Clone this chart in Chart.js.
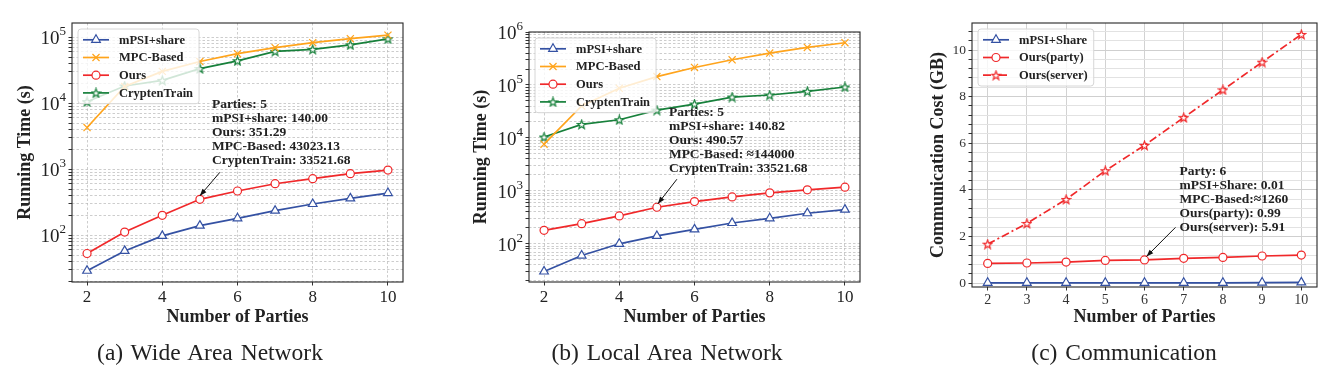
<!DOCTYPE html>
<html>
<head>
<meta charset="utf-8">
<script src="https://cdn.jsdelivr.net/npm/chart.js@4.4.1/dist/chart.umd.min.js"></script>
<style>
  body { margin: 0; background: #fff; width: 1334px; height: 383px; position: relative; overflow: hidden; font-family: "Liberation Serif", serif; }
  canvas { position: absolute; top: 0; }
  .cap { position: absolute; top: 339px; line-height: 26px; font-size: 23.5px; color: #222; white-space: nowrap; transform: translateX(-50%); word-spacing: 2px; }
</style>
</head>
<body>
<canvas id="wan" width="445" height="340" style="left:0"></canvas>
<canvas id="lan" width="445" height="340" style="left:445px"></canvas>
<canvas id="comm" width="444" height="340" style="left:890px"></canvas>
<div class="cap" style="left:210px">(a) Wide Area Network</div>
<div class="cap" style="left:667px">(b) Local Area Network</div>
<div class="cap" style="left:1124px">(c) Communication</div>

<script>
// ---- data ----
const parties = [2, 3, 4, 5, 6, 7, 8, 9, 10];

// (a) wide area network, running time in seconds
const wanMpsi    = [29, 58, 98, 140.00, 181, 236, 298, 363, 437];
const wanOurs    = [53, 112, 201, 351.29, 469, 605, 721, 859, 975];
const wanMpc     = [4300, 18000, 30500, 43023.13, 56500, 69700, 83000, 95500, 108000];
const wanCrypten = [10600, 18300, 22300, 33521.68, 44100, 61400, 65800, 77000, 94900];

// (b) local area network, running time in seconds
const lanMpsi    = [30, 60, 100, 140.82, 187, 247, 303, 378, 442];
const lanOurs    = [180, 240, 336, 490.57, 627, 769, 916, 1045, 1175];
const lanMpc     = [7600, 40000, 86500, 144000, 214000, 299000, 400000, 511000, 627000];
const lanCrypten = [10400, 18000, 22000, 33521.68, 43600, 59100, 64600, 75900, 91600];

// (c) communication cost in GB
const commMpsi   = [0.01, 0.01, 0.01, 0.01, 0.01, 0.01, 0.01, 0.02, 0.03];
const commParty  = [0.84, 0.86, 0.90, 0.97, 0.99, 1.06, 1.10, 1.16, 1.20];
const commServer = [1.67, 2.56, 3.59, 4.82, 5.91, 7.10, 8.29, 9.48, 10.67];

// tick labels
const partyTicks = [2, 4, 6, 8, 10];
const commPartyTicks = [2, 3, 4, 5, 6, 7, 8, 9, 10];
const commCostTicks = [0, 2, 4, 6, 8, 10];
const logExponents = [2, 3, 4, 5, 6];

// annotation texts
const wanNote = ['Parties: 5', 'mPSI+share: 140.00', 'Ours: 351.29', 'MPC-Based: 43023.13', 'CryptenTrain: 33521.68'];
const lanNote = ['Parties: 5', 'mPSI+share: 140.82', 'Ours: 490.57', 'MPC-Based: \u2248144000', 'CryptenTrain: 33521.68'];
const commNote = ['Party: 6', 'mPSI+Share: 0.01', 'MPC-Based:\u22481260', 'Ours(party): 0.99', 'Ours(server): 5.91'];

// ---- styling ----
const BLUE = '#3451a3', ORANGE = '#ffa41c', RED = '#f0282a', GREEN = '#17803b';
const FONT = 'Liberation Serif';
const DASHDOT = [8, 3, 2, 3];

function starImage(color) {
  const c = document.createElement('canvas');
  c.width = 11; c.height = 11;
  const g = c.getContext('2d');
  g.beginPath();
  for (let i = 0; i < 10; i++) {
    const r = i % 2 ? 1.9 : 4.6;
    const ang = -Math.PI / 2 + i * Math.PI / 5;
    const px = 5.5 + r * Math.cos(ang), py = 5.9 + r * Math.sin(ang);
    if (i) g.lineTo(px, py); else g.moveTo(px, py);
  }
  g.closePath();
  g.fillStyle = '#fff'; g.fill();
  g.strokeStyle = color; g.lineWidth = 1.2; g.stroke();
  return c;
}
const greenStar = starImage(GREEN);
const redStar = starImage(RED);

function markerRadius(m) {
  if (m === 'triangle') return 5;
  if (m === 'crossRot') return 5;
  return 4;
}

function series(label, values, color, marker, dash) {
  return {
    label: label,
    data: values.map((v, i) => ({ x: parties[i], y: v })),
    borderColor: color,
    borderWidth: 1.7,
    borderDash: dash || [],
    pointStyle: marker,
    pointRadius: markerRadius(marker),
    pointBorderColor: color,
    pointBackgroundColor: '#fff',
    pointBorderWidth: 1.2,
    tension: 0,
    fill: false
  };
}

function drawMarker(ctx, kind, color, x, y) {
  ctx.save();
  ctx.strokeStyle = color; ctx.fillStyle = '#fff'; ctx.lineWidth = 1.2; ctx.setLineDash([]);
  ctx.beginPath();
  if (kind === 'triangle') {
    const r = 5;
    ctx.moveTo(x, y - r); ctx.lineTo(x + r * 0.866, y + r / 2); ctx.lineTo(x - r * 0.866, y + r / 2);
    ctx.closePath(); ctx.fill(); ctx.stroke();
  } else if (kind === 'circle') {
    ctx.arc(x, y, 4, 0, Math.PI * 2); ctx.fill(); ctx.stroke();
  } else if (kind === 'crossRot') {
    const d = 5 * 0.7071;
    ctx.moveTo(x - d, y - d); ctx.lineTo(x + d, y + d);
    ctx.moveTo(x + d, y - d); ctx.lineTo(x - d, y + d); ctx.stroke();
  } else {
    ctx.drawImage(kind, x - kind.width / 2, y - kind.height / 2);
  }
  ctx.restore();
}

// frame, legend box, power-of-ten labels and the arrow note
const decor = {
  id: 'decor',
  afterDatasetsDraw(chart, args, o) {
    const ctx = chart.ctx, a = chart.chartArea;
    ctx.save();

    // legend
    ctx.font = 'bold 12.5px "' + FONT + '"';
    const ds = chart.data.datasets;
    let tw = 0;
    ds.forEach(d => { tw = Math.max(tw, ctx.measureText(d.label).width); });
    const bx = a.left + 6, by = a.top + 6;
    const bw = 41 + tw + 6, bh = 21.6 + (ds.length - 1) * 17.7;
    ctx.beginPath();
    ctx.roundRect(bx, by, bw, bh, 3);
    ctx.fillStyle = 'rgba(255,255,255,0.8)'; ctx.fill();
    ctx.strokeStyle = '#d6d6d6'; ctx.lineWidth = 1; ctx.stroke();
    ds.forEach((d, i) => {
      const y = by + 10.8 + i * 17.7;
      ctx.beginPath();
      ctx.setLineDash(d.borderDash);
      ctx.strokeStyle = d.borderColor; ctx.lineWidth = 1.7;
      ctx.moveTo(bx + 5, y); ctx.lineTo(bx + 31, y); ctx.stroke();
      ctx.setLineDash([]);
      drawMarker(ctx, d.pointStyle, d.borderColor, bx + 18, y);
      ctx.fillStyle = '#222'; ctx.textBaseline = 'middle'; ctx.textAlign = 'left';
      ctx.fillText(d.label, bx + 41, y + 0.5);
    });

    // annotation with arrow
    const n = o.note;
    const pt = chart.getDatasetMeta(n.dataset).data[n.index];
    const tipX = pt.x + n.tip[0], tipY = pt.y + n.tip[1];
    const tailX = pt.x + n.tail[0], tailY = pt.y + n.tail[1];
    ctx.strokeStyle = '#111'; ctx.fillStyle = '#111'; ctx.lineWidth = 1;
    ctx.beginPath(); ctx.moveTo(tailX, tailY); ctx.lineTo(tipX, tipY); ctx.stroke();
    const ang = Math.atan2(tipY - tailY, tipX - tailX);
    ctx.beginPath();
    ctx.moveTo(tipX, tipY);
    ctx.lineTo(tipX - 7 * Math.cos(ang) + 2.6 * Math.sin(ang), tipY - 7 * Math.sin(ang) - 2.6 * Math.cos(ang));
    ctx.lineTo(tipX - 7 * Math.cos(ang) - 2.6 * Math.sin(ang), tipY - 7 * Math.sin(ang) + 2.6 * Math.cos(ang));
    ctx.closePath(); ctx.fill();
    ctx.font = 'bold 13.5px "' + FONT + '"';
    ctx.fillStyle = '#222'; ctx.textBaseline = 'middle'; ctx.textAlign = 'left';
    n.lines.forEach((t, i) => ctx.fillText(t, pt.x + n.text[0], pt.y + n.text[1] + i * 13.9));

    // frame
    ctx.strokeStyle = '#262626'; ctx.lineWidth = 1.1;
    ctx.strokeRect(a.left, a.top, a.right - a.left, a.bottom - a.top);

    // 10^k labels on log axes
    if (o.logLabels) {
      const sc = chart.scales.y;
      ctx.fillStyle = '#222'; ctx.textAlign = 'right'; ctx.textBaseline = 'alphabetic';
      logExponents.forEach(e => {
        const v = Math.pow(10, e);
        if (v < sc.min || v > sc.max * 1.0001) return;
        const y = sc.getPixelForValue(v);
        const rx = a.left - 6;
        ctx.font = '13px "' + FONT + '"';
        const ew = ctx.measureText(String(e)).width;
        ctx.fillText(String(e), rx, y - 2);
        ctx.font = '19px "' + FONT + '"';
        ctx.fillText('10', rx - ew, y + 7);
      });
    }
    ctx.restore();
  }
};

function logTickValues(min, max) {
  const out = [];
  for (let e = 0; e <= 7; e++) {
    for (let m = 1; m <= 9; m++) {
      const v = m * Math.pow(10, e);
      if (v >= min && v <= max) out.push(v);
    }
  }
  return out;
}

function runningTimeChart(id, data, yMin, yMax, note, g) {
  return new Chart(document.getElementById(id), {
    type: 'line',
    data: {
      datasets: [
        series('mPSI+share', data[0], BLUE, 'triangle'),
        series('MPC-Based', data[1], ORANGE, 'crossRot'),
        series('Ours', data[2], RED, 'circle'),
        series('CryptenTrain', data[3], GREEN, greenStar)
      ]
    },
    options: {
      responsive: false,
      animation: false,
      layout: { padding: g.padding },
      plugins: {
        legend: { display: false },
        tooltip: { enabled: false },
        decor: { note: note, logLabels: true }
      },
      scales: {
        x: {
          type: 'linear', min: 1.6, max: 10.4,
          afterBuildTicks: axis => { axis.ticks = partyTicks.map(v => ({ value: v })); },
          afterFit: axis => { axis.height = 50; },
          ticks: { font: { family: FONT, size: 17, lineHeight: 1.2 }, color: '#222', padding: 1.5, maxRotation: 0, autoSkip: false, callback: v => String(v) },
          grid: { color: '#b8b8b8', lineWidth: 0.7, tickColor: '#333', tickLength: 3.5, tickWidth: 1 },
          border: { display: false, dash: [2.5, 2] },
          title: { display: true, text: 'Number of Parties', color: '#222', font: { family: FONT, size: 18, weight: 'bold', lineHeight: 1.2 }, padding: { top: 0, bottom: 3.5 } }
        },
        y: {
          type: 'logarithmic', min: yMin, max: yMax,
          afterBuildTicks: axis => { axis.ticks = logTickValues(yMin, yMax).map(v => ({ value: v })); },
          afterFit: axis => { axis.width = g.yWidth; },
          ticks: { font: { family: FONT, size: 17 }, padding: 2.5, autoSkip: false, callback: () => '' },
          grid: { color: '#b8b8b8', lineWidth: 0.7, tickColor: '#333', tickLength: 3.5, tickWidth: 1 },
          border: { display: false, dash: [2.5, 2] },
          title: { display: true, text: 'Running Time (s)', color: '#222', font: { family: FONT, size: 18, weight: 'bold', lineHeight: 1.2 }, padding: { top: g.titlePad, bottom: 0 } }
        }
      }
    },
    plugins: [decor]
  });
}

runningTimeChart('wan', [wanMpsi, wanMpc, wanOurs, wanCrypten], 19.6, 165000,
  { dataset: 2, index: 3, lines: wanNote, text: [12, -94.3], tail: [20, -27], tip: [0, -3.5] },
  { padding: { left: 0, right: 42, top: 23, bottom: 8 }, yWidth: 72, titlePad: 15 });

runningTimeChart('lan', [lanMpsi, lanMpc, lanOurs, lanCrypten], 19, 1000000,
  { dataset: 2, index: 3, lines: lanNote, text: [12, -94.6], tail: [20, -28], tip: [1, -3.5] },
  { padding: { left: 0, right: 30, top: 32, bottom: 8 }, yWidth: 84, titlePad: 26 });

new Chart(document.getElementById('comm'), {
  type: 'line',
  data: {
    datasets: [
      series('mPSI+Share', commMpsi, BLUE, 'triangle'),
      series('Ours(party)', commParty, RED, 'circle'),
      series('Ours(server)', commServer, RED, redStar, DASHDOT)
    ]
  },
  options: {
    responsive: false,
    animation: false,
    layout: { padding: { left: 0, right: 17, top: 23, bottom: 3 } },
    plugins: {
      legend: { display: false },
      tooltip: { enabled: false },
      decor: { note: { dataset: 1, index: 4, lines: commNote, text: [35, -88], tail: [31, -32.6], tip: [2, -3.5] }, logLabels: false }
    },
    scales: {
      x: {
        type: 'linear', min: 1.6, max: 10.4,
        afterBuildTicks: axis => { axis.ticks = commPartyTicks.map(v => ({ value: v })); },
        afterFit: axis => { axis.height = 50; },
        ticks: { font: { family: FONT, size: 14, lineHeight: 1.2 }, color: '#333', padding: 1.5, maxRotation: 0, autoSkip: false, callback: v => String(v) },
        grid: { color: '#d2d2d2', lineWidth: 1, tickColor: '#333', tickLength: 3.5, tickWidth: 1 },
        border: { display: false },
        title: { display: true, text: 'Number of Parties', color: '#222', font: { family: FONT, size: 18, weight: 'bold', lineHeight: 1.2 }, padding: { top: 0, bottom: 8.5 } }
      },
      y: {
        type: 'linear', min: -0.17, max: 11.16,
        afterBuildTicks: axis => {
          const t = [];
          for (let k = 0; k <= 27; k++) t.push({ value: Math.round(k * 0.4 * 10) / 10 });
          axis.ticks = t;
        },
        afterFit: axis => { axis.width = 82; },
        ticks: {
          font: { family: FONT, size: 13.5 }, color: '#333', padding: 2.5, autoSkip: false,
          callback: v => commCostTicks.includes(v) ? String(v) : ''
        },
        grid: {
          color: ctx => commCostTicks.includes(ctx.tick && ctx.tick.value) ? '#cfcfcf' : '#e2e2e2',
          lineWidth: 1, tickColor: '#333', tickLength: 3.5, tickWidth: 1
        },
        border: { display: false },
        title: { display: true, text: 'Communication Cost (GB)', color: '#222', font: { family: FONT, size: 18, weight: 'bold', lineHeight: 1.2 }, padding: { top: 37.5, bottom: 0 } }
      }
    }
  },
  plugins: [decor]
});
</script>
</body>
</html>
